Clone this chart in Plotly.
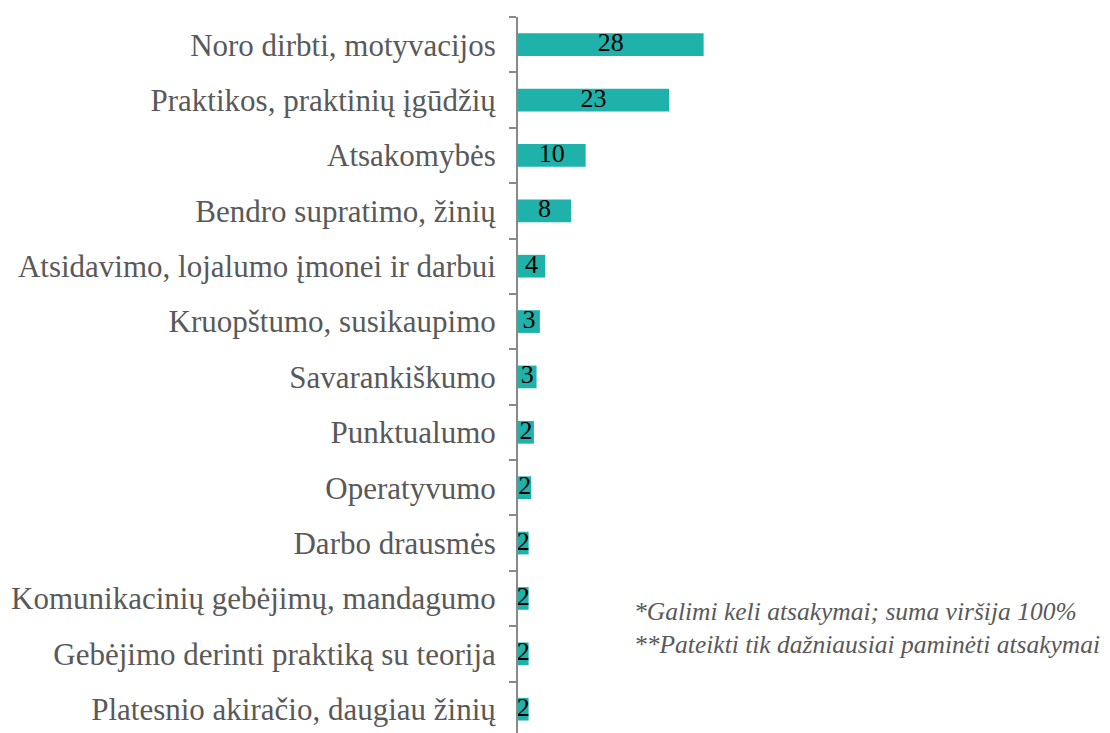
import plotly.graph_objects as go

categories = [
    "Noro dirbti, motyvacijos",
    "Praktikos, praktinių įgūdžių",
    "Atsakomybės",
    "Bendro supratimo, žinių",
    "Atsidavimo, lojalumo įmonei ir darbui",
    "Kruopštumo, susikaupimo",
    "Savarankiškumo",
    "Punktualumo",
    "Operatyvumo",
    "Darbo drausmės",
    "Komunikacinių gebėjimų, mandagumo",
    "Gebėjimo derinti praktiką su teorija",
    "Platesnio akiračio, daugiau žinių",
]
values = [28.0, 22.8, 10.2, 8.0, 4.1, 3.3, 2.8, 2.4, 2.0, 1.6, 1.6, 1.6, 1.6]
footnote = "*Galimi keli atsakymai; suma viršija 100%<br>**Pateikti tik dažniausiai paminėti atsakymai"

SERIF = "Times New Roman, Liberation Serif, serif"
BAR_COLOR = "#1FB2AA"

fig = go.Figure()
fig.add_trace(go.Bar(
    y=categories, x=values, orientation="h",
    marker=dict(color=BAR_COLOR, line=dict(width=0)),
    hoverinfo="skip", showlegend=False,
))
fig.add_trace(go.Scatter(
    y=categories, x=[v / 2 for v in values], mode="text",
    text=[f"{v:.0f}" for v in values],
    textposition="middle center",
    textfont=dict(family=SERIF, size=26, color="#000000"),
    hoverinfo="skip", showlegend=False, cliponaxis=False,
))

fig.update_layout(
    width=1110, height=733,
    margin=dict(l=518, r=0, t=17, b=0, autoexpand=False),
    paper_bgcolor="white", plot_bgcolor="white",
    bargap=0.59,
    xaxis=dict(visible=False, range=[0, 89.3], automargin=False),
    yaxis=dict(
        type="category", automargin=False,
        range=[12.43, -0.5],
        showline=True, linecolor="#898989", linewidth=2,
        ticks="outside", tickson="boundaries", ticklen=7, tickwidth=2, tickcolor="#898989",
        showgrid=False, zeroline=False,
        tickfont=dict(family=SERIF, size=31, color="#595959"),
        ticklabelstandoff=14,
    ),
    annotations=[dict(
        text=footnote, xref="paper", yref="paper",
        x=0.1925, y=0.1466, xanchor="left", yanchor="middle", align="left",
        showarrow=False,
        font=dict(family=SERIF, size=25.5, color="#595959", style="italic"),
    )],
)

fig.write_html(
    "out.html",
    config={"displayModeBar": False},
    post_script="document.body.style.margin='0';document.body.style.overflow='hidden';",
)
